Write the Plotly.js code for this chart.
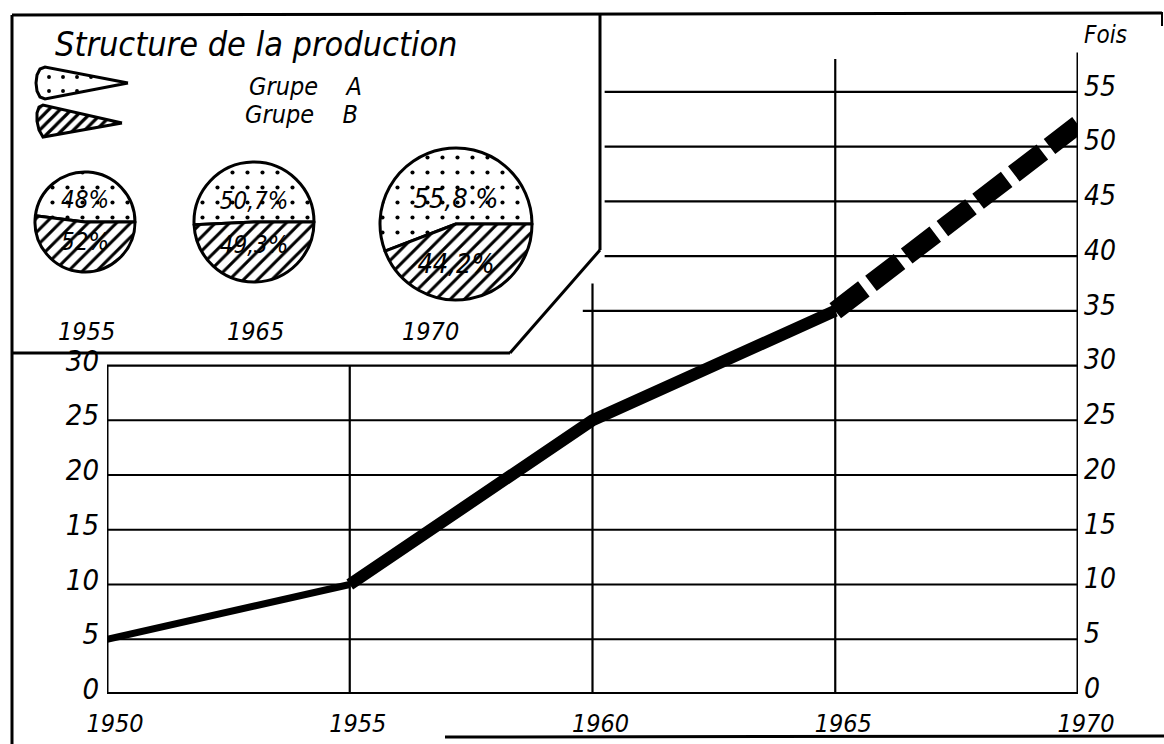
<!DOCTYPE html>
<html>
<head>
<meta charset="utf-8">
<script src="https://cdn.plot.ly/plotly-3.0.1.min.js"></script>
<style>html,body{margin:0;padding:0;background:#fff;}#chart{width:1164px;height:744px;}</style>
</head>
<body>
<div id="chart"></div>
<script>
// ---- data ----
const years = [1950, 1955, 1960, 1965, 1970];
const growth = [5, 10, 25, 35, 52];          // "Fois" (times)
const leftTicks = [0, 5, 10, 15, 20, 25, 30];
const rightTicks = [0, 5, 10, 15, 20, 25, 30, 35, 40, 45, 50, 55];
const xTicks = [1950, 1955, 1960, 1965, 1970];
const pieYears = ['1955', '1965', '1970'];
const groupA = [48, 50.7, 55.8];
const groupB = [52, 49.3, 44.2];
const groupALabels = ['48%', '50,7%', '55,8 %'];
const groupBLabels = ['52%', '49,3%', '44,2%'];
const groupNames = ['Grupe A', 'Grupe B'];

// ---- page geometry (px) ----
const W = 1164, H = 744;
const FONT = 'DejaVu Sans Condensed, DejaVu Sans, sans-serif';
const ital = (size) => ({family: FONT, size: size, color: '#000', style: 'italic'});
const plotL = 107, plotR = 1078, plotB = 694, plotT = 48;
const yMax = 59;

const traces = [];

// main line: solid segments + dashed projection
traces.push({x: years.slice(0, 2), y: growth.slice(0, 2), mode: 'lines', line: {color: '#000', width: 7}, xaxis: 'x', yaxis: 'y', hoverinfo: 'skip', showlegend: false});
traces.push({x: years.slice(1, 4), y: growth.slice(1, 4), mode: 'lines', line: {color: '#000', width: 12}, xaxis: 'x', yaxis: 'y', hoverinfo: 'skip', showlegend: false});
traces.push({x: years.slice(3, 5), y: growth.slice(3, 5), mode: 'lines', line: {color: '#000', width: 19, dash: '36px,9px'}, xaxis: 'x', yaxis: 'y', hoverinfo: 'skip', showlegend: false});

// pies
const pieGeom = [ {cx: 85, cy: 222, r: 50}, {cx: 254, cy: 222, r: 60}, {cx: 456, cy: 224, r: 76} ];
pieYears.forEach((yr, i) => {
  const g = pieGeom[i];
  traces.push({
    type: 'pie', sort: false, direction: 'clockwise',
    rotation: 90 - 3.6 * groupA[i],
    values: [groupA[i], groupB[i]], labels: groupNames,
    text: [groupALabels[i], groupBLabels[i]], textinfo: 'text',
    textposition: 'inside', insidetextorientation: 'horizontal',
    textfont: ital(i === 2 ? 27 : 24),
    marker: {colors: ['#fff', '#fff'], line: {color: '#000', width: 3},
             pattern: {shape: ['.', '/'], fgcolor: '#000', bgcolor: '#fff', size: [15, 10], solidity: [0.06, 0.3]}},
    domain: {x: [(g.cx - g.r) / W, (g.cx + g.r) / W], y: [1 - (g.cy + g.r) / H, 1 - (g.cy - g.r) / H]},
    showlegend: false, hoverinfo: 'skip'
  });
});

// legend cones (decorative symbols, pixel space)
traces.push({x: [128, 45, 40, 37, 36, 37, 40, 45, 128], y: [83, 67, 69, 75, 83, 91, 97, 99, 83],
  mode: 'lines', fill: 'toself', fillcolor: '#fff', line: {color: '#000', width: 3},
  fillpattern: {shape: '.', fgcolor: '#000', bgcolor: '#fff', size: 14, solidity: 0.06},
  xaxis: 'x2', yaxis: 'y2', hoverinfo: 'skip', showlegend: false});
traces.push({x: [122, 43, 39, 37, 37, 39, 43, 122], y: [123, 105, 107, 113, 121, 130, 137, 123],
  mode: 'lines', fill: 'toself', fillcolor: '#fff', line: {color: '#000', width: 3},
  fillpattern: {shape: '/', fgcolor: '#000', bgcolor: '#fff', size: 8, solidity: 0.4},
  xaxis: 'x2', yaxis: 'y2', hoverinfo: 'skip', showlegend: false});

// ---- shapes ----
const shapes = [];
const dl = (x0, y0, x1, y1, w) => shapes.push({type: 'line', xref: 'x', yref: 'y', x0, y0, x1, y1, layer: 'below', line: {color: '#000', width: w}});
const pl = (x0, y0, x1, y1, w) => shapes.push({type: 'line', xref: 'x2', yref: 'y2', x0, y0, x1, y1, layer: 'above', line: {color: '#000', width: w}});
// horizontal grid
leftTicks.forEach(v => { if (v > 0) dl(xTicks[0], v, xTicks[4], v, 2.2); });
rightTicks.forEach(v => { if (v > 30) dl(v === 35 ? 1959.8 : 1960.25, v, xTicks[4], v, 2.2); });
// vertical grid
dl(1955, 0, 1955, 30, 2.2);
dl(1960, 0, 1960, 37.5, 2.2);
dl(1965, 0, 1965, 58, 2.2);
// axes lines
dl(1950, 0, 1950, 30, 3);
dl(1970, 0, 1970, 58.6, 3);
dl(1950, 0, 1970, 0, 4);
// frame + inset box
pl(12, 15, 12, 744, 3);
pl(12, 15, 1162, 13, 3);
pl(1162, 12, 1162, 26, 2);
pl(600, 15, 600, 250, 3);
pl(600, 250, 510, 353, 3);
pl(12, 353, 510, 353, 3);
pl(445, 737, 1164, 736, 3);

// ---- annotations ----
const annotations = [];
const ann = (x, y, text, size, xanchor) => annotations.push({xref: 'x2', yref: 'y2', x, y, text, showarrow: false, font: ital(size), xanchor: xanchor || 'center', yanchor: 'middle'});
ann(53, 44, 'Structure de la production', 34, 'left');
ann(247, 86, groupNames[0].replace(' ', '    '), 25, 'left');
ann(243, 114, groupNames[1].replace(' ', '    '), 25, 'left');
pieYears.forEach((yr, i) => ann([86, 255, 430][i], 331, yr, 25));
ann(1105, 35, 'Fois', 24);

const layout = {
  width: W, height: H,
  margin: {l: 0, r: 0, t: 0, b: 0},
  paper_bgcolor: '#fff', plot_bgcolor: 'rgba(0,0,0,0)',
  showlegend: false,
  xaxis: {domain: [plotL / W, plotR / W], range: [1950, 1970], tickvals: xTicks, ticktext: xTicks.map(String),
          showgrid: false, zeroline: false, showline: false, ticks: '', tickfont: ital(25), ticklabelshift: 8, ticklabelstandoff: 12, anchor: 'y', fixedrange: true},
  yaxis: {domain: [1 - plotB / H, 1 - plotT / H], range: [0, yMax], tickvals: leftTicks, ticktext: leftTicks.map(String),
          showgrid: false, zeroline: false, showline: false, ticks: '', tickfont: ital(29), ticklabelstandoff: 7, ticklabelshift: -5, anchor: 'x', fixedrange: true},
  yaxis3: {overlaying: 'y', side: 'right', anchor: 'x', range: [0, yMax], tickvals: rightTicks, ticktext: rightTicks.map(String),
           showgrid: false, zeroline: false, showline: false, ticks: '', tickfont: ital(28), ticklabelstandoff: 5, ticklabelshift: -6, fixedrange: true},
  xaxis2: {domain: [0, 1], range: [0, W], visible: false, anchor: 'y2', fixedrange: true},
  yaxis2: {domain: [0, 1], range: [H, 0], visible: false, anchor: 'x2', fixedrange: true},
  shapes, annotations
};

// attach an invisible trace to yaxis3 so it is drawn
traces.push({x: [1950], y: [0], xaxis: 'x', yaxis: 'y3', mode: 'markers', marker: {opacity: 0}, hoverinfo: 'skip', showlegend: false});

Plotly.newPlot('chart', traces, layout, {staticPlot: true, displayModeBar: false});
</script>
</body>
</html>
